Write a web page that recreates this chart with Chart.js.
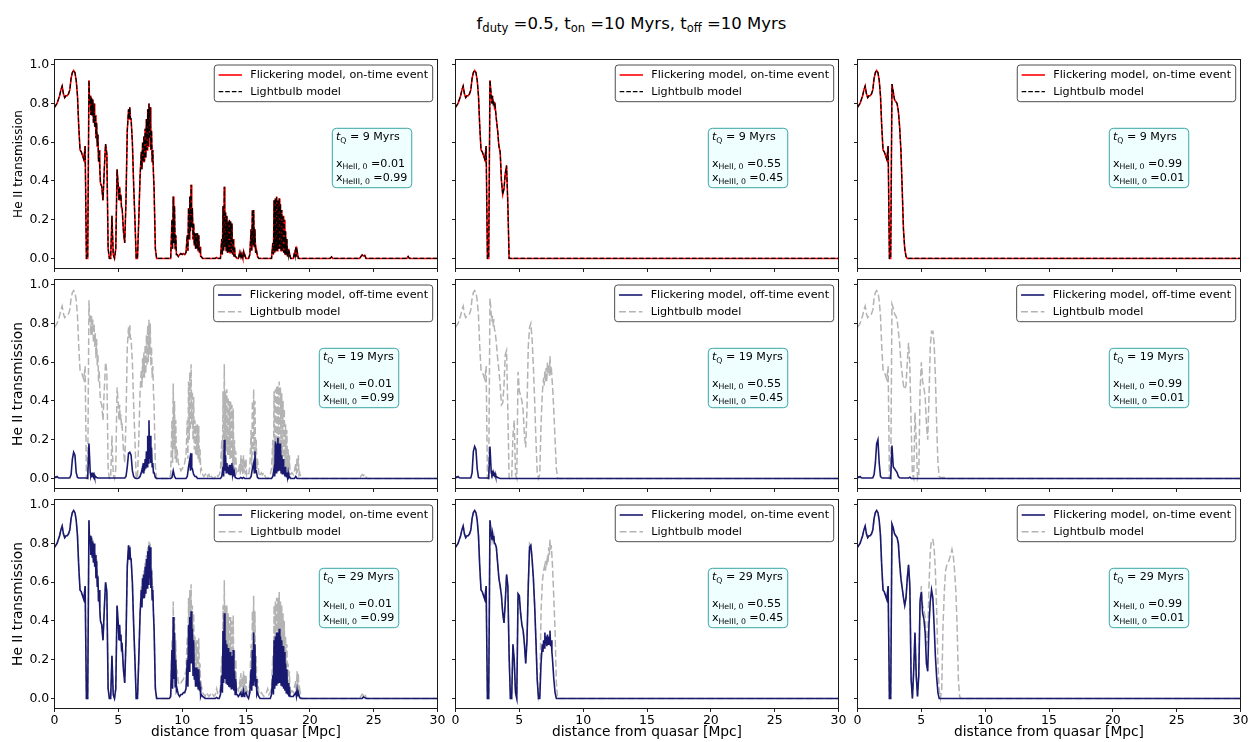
<!DOCTYPE html>
<html>
<head>
<meta charset="utf-8">
<script src="https://cdn.jsdelivr.net/npm/chart.js@4.4.0/dist/chart.umd.min.js"></script>
<style>
  html, body { margin: 0; padding: 0; background: #fff; }
  body { width: 1258px; height: 742px; position: relative; overflow: hidden; font-family: "DejaVu Sans", sans-serif; }
  canvas.panel { position: absolute; }
  #suptitle { position: absolute; left: 0; width: 1263px; top: 15px; line-height: 17px; font-size: 16.5px; text-align: center; color: #000; white-space: nowrap; }
  #suptitle sub { font-size: 0.7em; vertical-align: -0.22em; line-height: 0; }
</style>
</head>
<body>
<div id="suptitle">f<sub>duty</sub> =0.5, t<sub>on</sub> =10 Myrs, t<sub>off</sub> =10 Myrs</div>
<script>
// ---- sampling grid and axis ticks ----
const STEP = 0.1;                           // spacing of the sightline samples [Mpc]
const distTicks = [0, 5, 10, 15, 20, 25, 30];
const transTicks = [0, 0.2, 0.4, 0.6, 0.8, 1.0];

// ---- run parameters ----
const quasarAge = [9, 19, 29];              // t_Q per row [Myrs]
const xHeII0 = ['0.01', '0.55', '0.99'];    // initial He II fraction per column
const xHeIII0 = ['0.99', '0.45', '0.01'];   // initial He III fraction per column
const flickerEvent = ['on-time', 'off-time', 'on-time'];

// ---- transmission along the sightline ----
// A plain number is the transmission at that sample; a pair [peak, trough]
// is a bin where the forest swings from peak (at the sample) to trough
// (half a step further on).

// 0.0-2.4 Mpc, common to every run that sees the quasar shining
const nearZone = [0.78,0.79,0.80,0.82,0.84,0.87,0.89,0.85,0.83,0.84,
  0.84,0.85,0.87,0.93,0.96,0.97,0.96,0.92,0.84,0.68,
  0.56,0.55,0.53,0.51,0.58];

// x_HeII,0 = 0.01 ; samples from 2.5 to 20.0 Mpc
const lb09_x001 = [0.00,0.00,[0.92,0.80],[0.84,0.74],[0.83,0.74],
  [0.82,0.70],[0.80,0.68],[0.74,0.62],[0.70,0.58],[0.64,0.50],[0.56,0.46],0.39,0.37,0.30,0.46,
  0.59,0.54,0.05,0.00,0.00,0.22,0.02,0.00,0.05,0.46,
  [0.37,0.30],[0.37,0.30],[0.33,0.26],0.26,0.14,0.08,0.30,0.66,[0.77,0.72],[0.78,0.72],
  0.72,0.60,0.38,0.20,0.00,0.00,0.20,0.42,[0.55,0.46],[0.60,0.50],
  [0.63,0.50],[0.67,0.52],[0.72,0.56],[0.77,0.58],[0.80,0.62],[0.78,0.56],[0.66,0.50],[0.56,0.44],0.36,0.05,
  0,0,0,0,0,0,0,0,0,0,
  0,0,[0.20,0.05],[0.32,0.08],[0.27,0.05],[0.12,0.02],0.02,0.01,0.02,0.025,
  0.02,0.025,0.02,0.03,[0.12,0.04],[0.26,0.10],[0.32,0.14],[0.38,0.16],[0.26,0.10],[0.18,0.07],
  [0.13,0.05],[0.13,0.05],[0.13,0.04],[0.12,0.03],[0.06,0.01],0.01,0,0,0,0,
  0,0,0,0,0,0,0,0.005,0,0,
  0,[0.10,0.02],[0.27,0.04],[0.37,0.06],[0.24,0.04],[0.22,0.03],[0.19,0.03],[0.20,0.03],[0.19,0.03],[0.18,0.02],
  [0.10,0.01],[0.06,0.01],0.01,0,0,[0.03,0.01],[0.03,0.01],[0.02,0.005],[0.03,0.01],0.02,
  0,0,0,0.02,[0.15,0.04],[0.25,0.07],[0.25,0.06],[0.15,0.03],0.05,0.01,
  0,0,0,0,0,0,0,0,0,0,
  0,[0.08,0.02],[0.30,0.03],[0.31,0.04],[0.32,0.04],[0.30,0.05],[0.31,0.05],[0.28,0.04],[0.25,0.04],[0.22,0.03],
  [0.20,0.02],[0.14,0.02],[0.10,0.01],[0.05,0.01],0.03,0,0,0,[0.03,0.01],[0.06,0.01],
  0.04,0,0,0,0,0,0,0,0,0,
  0];
const lb19_x001 = [0.00,0.00,[0.92,0.80],[0.85,0.74],[0.84,0.74],
  [0.82,0.70],[0.80,0.68],[0.75,0.62],[0.72,0.58],[0.64,0.50],[0.56,0.46],0.40,0.38,0.30,0.46,
  0.60,0.55,0.05,0.00,0.00,0.22,0.02,0.00,0.05,0.47,
  [0.38,0.30],[0.38,0.30],[0.33,0.26],0.27,0.15,0.08,0.30,0.68,[0.78,0.72],[0.79,0.72],
  0.72,0.60,0.38,0.20,0.00,0.00,0.20,0.44,[0.56,0.47],[0.62,0.52],
  [0.65,0.52],[0.69,0.54],[0.74,0.58],[0.79,0.60],[0.82,0.64],[0.80,0.58],[0.68,0.52],[0.58,0.45],0.38,0.06,
  0,0,0,0,0,0,0,0,0,0,
  0,0.02,[0.30,0.08],[0.49,0.15],[0.40,0.10],[0.30,0.08],0.15,0.08,0.06,0.04,
  0.05,0.06,0.08,0.12,[0.30,0.10],[0.50,0.20],[0.55,0.25],[0.59,0.28],[0.45,0.20],[0.42,0.15],
  [0.30,0.12],[0.28,0.12],[0.28,0.10],[0.27,0.08],[0.15,0.04],0.05,0.02,0.01,0.02,0.03,
  0.01,0.02,0,0.01,0,0,0.01,0.02,0.01,0.02,
  0.04,[0.20,0.04],[0.45,0.10],[0.59,0.15],[0.45,0.14],[0.46,0.12],[0.42,0.12],[0.40,0.10],[0.40,0.10],[0.38,0.08],
  [0.36,0.06],[0.20,0.04],[0.14,0.03],0.04,0.03,[0.08,0.02],[0.12,0.03],[0.10,0.02],[0.12,0.03],[0.10,0.02],
  [0.10,0.02],0.03,0.02,0.06,[0.25,0.06],[0.40,0.12],[0.46,0.14],[0.40,0.10],[0.20,0.05],0.10,
  0.03,0.01,0.03,0.02,0.03,0.01,0,0,0.01,0.02,
  0.05,[0.20,0.04],[0.45,0.08],[0.46,0.10],[0.48,0.12],[0.48,0.12],[0.50,0.12],[0.47,0.10],[0.44,0.10],[0.40,0.08],
  [0.36,0.06],[0.28,0.05],[0.25,0.04],[0.15,0.02],[0.12,0.02],0.02,0.03,0.02,0.04,[0.08,0.02],
  [0.11,0.03],[0.12,0.02],0.03,0,0,0,0,0,0,0,
  0];
// off-time event, samples from 0.0 to 20.0 Mpc
const fl19_x001 = [0.010,0.005,0.010,0.003,0.002,0.002,0.002,0.002,0.002,0.002,
  0.002,0.002,0.003,0.02,0.10,0.135,0.12,0.03,0.005,0.002,
  0.002,0.002,0.002,0.002,0.002,0.002,0,0.18,[0.03,0.01],[0.02,0.01],
  [0.03,0.01],[0.02,0.005],0.01,0.005,0.002,0.002,0.002,0.002,0.002,0.002,
  0.002,0.002,0.002,0.002,0.002,0.002,0.002,0.002,0.002,0.002,
  0.002,0.002,0.002,0.002,0.002,0.002,0.01,0.06,0.13,0.135,
  0.12,0.04,0.01,0.002,0,0,0.002,0.01,0.03,[0.06,0.03],
  [0.08,0.04],[0.10,0.05],[0.14,0.06],[0.22,0.08],[0.30,0.10],[0.22,0.08],[0.16,0.06],[0.08,0.03],0.03,0.005,
  0,0,0,0,0,0,0,0,0,0,
  0,0,0.005,0.04,0.01,0,0,0,0,0,
  0,0,0,0,0.01,0.06,[0.10,0.04],[0.13,0.05],0.05,0.02,
  0.01,0.01,0,0,0,0,0,0,0,0,
  0,0,0,0,0,0,0,0,0,0,
  0,0.01,[0.06,0.01],[0.20,0.04],[0.12,0.03],[0.08,0.03],[0.06,0.02],[0.07,0.02],[0.07,0.02],[0.08,0.02],
  [0.04,0.01],[0.03,0.005],0.005,0,0,0,0.005,0,0.005,0,
  0,0,0,0,0.01,0.05,[0.08,0.03],[0.14,0.04],0.04,0.005,
  0,0,0,0,0,0,0,0,0,0,
  0,0.01,[0.05,0.01],[0.19,0.03],[0.18,0.04],[0.21,0.04],[0.18,0.04],[0.18,0.03],[0.12,0.02],[0.10,0.02],
  [0.06,0.01],[0.06,0.01],[0.03,0.005],[0.03,0.005],0.01,0,0,0,0,0.01,
  0,0,0,0,0,0,0,0,0,0,
  0];
const lb29_x001 = [0.00,0.00,[0.92,0.80],[0.85,0.74],[0.84,0.74],
  [0.82,0.70],[0.80,0.68],[0.75,0.62],[0.72,0.58],[0.64,0.50],[0.56,0.46],0.40,0.38,0.30,0.46,
  0.60,0.55,0.05,0.00,0.00,0.22,0.02,0.00,0.05,0.48,
  [0.38,0.30],[0.38,0.30],[0.33,0.26],0.27,0.15,0.08,0.30,0.68,[0.79,0.72],[0.79,0.72],
  0.72,0.60,0.38,0.20,0.00,0.00,0.20,0.44,[0.58,0.48],[0.64,0.52],
  [0.66,0.52],[0.70,0.54],[0.74,0.58],[0.78,0.60],[0.81,0.64],[0.80,0.58],[0.68,0.52],[0.58,0.45],0.38,0.06,
  0,0,0,0,0,0,0,0,0,0,
  0,0.02,[0.30,0.08],[0.50,0.15],[0.42,0.10],[0.30,0.08],0.15,0.08,0.07,0.08,
  0.09,0.10,0.12,0.14,[0.32,0.12],[0.52,0.22],[0.56,0.26],[0.59,0.28],[0.48,0.22],[0.44,0.16],
  [0.32,0.14],[0.30,0.14],[0.30,0.12],[0.31,0.10],[0.18,0.05],0.07,0.03,0.02,0.01,0.03,
  0.02,0.01,0.02,0.01,0.02,0.01,0.02,0.05,0.02,0.03,
  0.06,[0.22,0.05],[0.48,0.12],[0.61,0.16],[0.48,0.15],[0.48,0.14],[0.44,0.13],[0.42,0.12],[0.42,0.12],[0.40,0.10],
  [0.43,0.08],[0.25,0.05],[0.20,0.04],0.05,0.04,[0.08,0.02],[0.13,0.03],[0.11,0.02],[0.14,0.03],[0.12,0.02],
  [0.12,0.02],0.04,0.03,0.08,[0.28,0.07],[0.45,0.14],[0.53,0.16],[0.45,0.12],[0.22,0.05],0.10,
  0.03,0.02,0.03,0.02,0.01,0.02,0.03,0.05,0.02,0.03,
  0.06,[0.22,0.05],[0.48,0.10],[0.50,0.12],[0.52,0.14],[0.52,0.14],[0.55,0.14],[0.50,0.12],[0.48,0.12],[0.44,0.10],
  [0.40,0.08],[0.32,0.06],[0.28,0.05],[0.18,0.03],[0.14,0.02],0.03,0.04,0.03,0.06,[0.09,0.03],
  [0.14,0.04],[0.13,0.03],0.05,0.01,0,0,0,0,0,0,
  0];
const fl29_x001 = [0.00,0.00,[0.92,0.80],[0.84,0.74],[0.83,0.73],
  [0.81,0.70],[0.80,0.68],[0.74,0.62],[0.71,0.58],[0.63,0.50],[0.56,0.46],0.40,0.38,0.30,0.46,
  0.60,0.55,0.05,0.00,0.00,0.22,0.02,0.00,0.05,0.48,
  [0.38,0.30],[0.38,0.30],[0.33,0.26],0.27,0.15,0.08,0.30,0.68,[0.79,0.72],[0.78,0.72],
  0.72,0.60,0.38,0.20,0.00,0.00,0.20,0.43,[0.56,0.47],[0.62,0.52],
  [0.64,0.52],[0.68,0.54],[0.72,0.57],[0.76,0.59],[0.79,0.62],[0.78,0.57],[0.66,0.51],[0.56,0.44],0.36,0.05,
  0,0,0,0,0,0,0,0,0,0,
  0,0.01,[0.25,0.05],[0.42,0.10],[0.34,0.06],[0.20,0.04],0.05,0.02,0.01,0.02,
  0.02,0.03,0.03,0.05,[0.20,0.06],[0.38,0.14],[0.42,0.18],[0.45,0.18],[0.36,0.12],[0.30,0.10],
  [0.16,0.06],[0.16,0.06],[0.15,0.05],[0.15,0.04],[0.06,0.01],0.02,0.01,0.005,0,0,
  0,0,0,0,0,0,0,0.005,0,0,
  0.02,[0.12,0.03],[0.35,0.08],[0.44,0.10],[0.30,0.08],[0.28,0.07],[0.26,0.06],[0.24,0.06],[0.24,0.05],[0.22,0.05],
  [0.25,0.04],[0.14,0.02],[0.10,0.02],0.02,0.01,0.02,[0.03,0.01],0.01,[0.04,0.01],0.02,
  0.03,0.01,0,0.03,[0.15,0.04],[0.25,0.07],[0.34,0.09],[0.28,0.06],[0.10,0.02],0.03,
  0.01,0,0,0,0,0,0,0,0,0,
  0.02,[0.12,0.02],[0.30,0.05],[0.32,0.07],[0.34,0.08],[0.34,0.08],[0.36,0.08],[0.32,0.07],[0.30,0.06],[0.27,0.05],
  [0.24,0.04],[0.18,0.03],[0.15,0.02],[0.08,0.01],[0.06,0.01],0.01,0.01,0.01,0.02,[0.03,0.01],
  [0.04,0.01],0.03,0.005,0,0,0,0,0,0,0,
  0];
// far side of the x_HeII,0 = 0.01 sightline, [distance, transmission]
const tail09_x001 = [[21.6,0],[21.7,0.008],[21.8,0],[23.9,0],[24.0,0.01],[24.1,0.018],[24.2,0.012],[24.3,0.016],[24.4,0],[27.6,0],[27.7,0.01],[27.8,0],[30,0]];
const tail19_x001 = [[20.6,0],[20.7,0.004],[20.8,0],[23.9,0],[24.0,0.012],[24.1,0.02],[24.2,0.014],[24.3,0.022],[24.4,0.005],[24.5,0],[30,0]];
const tail29_x001 = [[23.9,0],[24.0,0.012],[24.1,0.022],[24.2,0.015],[24.3,0.025],[24.4,0.006],[24.5,0],[30,0]];
const tailOn29_x001 = [[24.1,0],[24.2,0.008],[24.3,0.004],[24.4,0],[30,0]];
const farZero = [[30,0]];

// x_HeII,0 = 0.55 ; samples from 2.5 Mpc (off-time run from 0.0)
const lb09_x055 = [0.00,0.00,0.92,[0.84,0.80],[0.84,0.80],
  [0.81,0.78],0.79,0.72,0.66,0.58,0.55,0.40,0.33,0.36,0.44,
  0.48,0.28,0.00];
const lb19_x055 = [0.00,0.00,0.93,[0.85,0.81],[0.84,0.80],
  [0.81,0.77],0.76,0.70,0.62,0.56,0.48,0.38,0.39,0.48,0.64,
  0.66,0.35,0.00,0.00,0.00,0.22,0.30,0.02,0.00,0.55,
  0.45,0.43,0.40,0.35,0.22,0.16,0.36,0.68,0.78,0.80,
  0.72,0.58,0.40,0.20,0.03,0.00,0.02,0.28,0.44,[0.52,0.48],
  [0.56,0.50],[0.57,0.50],[0.60,0.54],[0.59,0.53],[0.63,0.56],[0.58,0.52],0.48,0.35,0.20,0.05,
  0.00];
const fl19_x055 = [0.010,0.005,0.010,0.003,0.002,0.002,0.002,0.002,0.002,0.002,
  0.002,0.002,0.003,0.03,0.14,0.165,0.15,0.05,0.005,0.002,
  0.002,0.002,0.002,0.002,0.002,0.002,0,0.165,[0.03,0.02],[0.03,0.015],
  [0.025,0.015],[0.025,0.01],0.01,0.005,0.002,0];
const lb29_x055 = [0.00,0.00,0.92,[0.85,0.82],[0.85,0.82],
  [0.84,0.80],0.80,0.78,0.70,0.62,0.58,0.53,0.44,0.39,0.50,
  0.64,0.58,0.22,0.00,0.00,0.28,0.20,0.03,0.00,0.54,
  0.53,0.44,0.38,0.35,0.28,0.18,0.30,0.58,0.80,0.79,
  0.72,0.62,0.48,0.30,0.10,0.00,0.02,0.45,0.60,0.66,
  [0.69,0.66],[0.71,0.68],[0.74,0.70],[0.78,0.74],[0.82,0.76],[0.79,0.74],0.68,0.52,0.35,0.08,
  0.00];
const fl29_x055 = [0.00,0.00,0.92,[0.85,0.82],[0.85,0.82],
  [0.84,0.80],0.80,0.78,0.70,0.62,0.58,0.53,0.44,0.39,0.50,
  0.64,0.58,0.22,0.00,0.00,0.28,0.20,0.03,0.00,0.54,
  0.53,0.44,0.38,0.35,0.28,0.18,0.30,0.58,0.78,0.79,
  0.72,0.62,0.48,0.30,0.10,0.00,0.00,0.18,[0.28,0.24],[0.30,0.26],
  [0.34,0.28],[0.32,0.27],[0.33,0.28],[0.32,0.28],[0.35,0.27],[0.30,0.24],0.20,0.10,0.03,0.00];

// x_HeII,0 = 0.99 ; samples from 2.5 Mpc (off-time run from 0.0)
const lb09_x099 = [0.00,0.00,0.90,0.86,0.82,
  0.81,0.80,0.76,0.68,0.56,0.36,0.15,0.05,0.01,0.00];
const lb19_x099 = [0.00,0.00,0.90,0.88,0.85,
  0.84,0.82,0.76,0.70,0.60,0.54,0.48,0.46,0.48,0.60,
  0.70,0.58,0.28,0.02,0.00,0.34,0.20,0.00,0.02,0.45,
  0.60,0.50,0.47,0.42,0.28,0.20,0.42,0.68,0.76,0.76,
  0.70,0.53,0.28,0.08,0.01,0.005,0.005,0.005,0.005,0.005,
  0.00];
const fl19_x099 = [0.010,0.005,0.010,0.003,0.002,0.002,0.002,0.002,0.002,0.002,
  0.002,0.002,0.003,0.02,0.08,0.18,0.20,0.08,0.01,0.003,
  0.002,0.002,0.002,0.002,0.002,0.002,0,0.17,0.06,0.05,
  0.04,0.03,0.01,0.003,0.002,0.002,0.002,0.002,0.002,0.002,
  0.002,0.006,0];
const lb29_x099 = [0.00,0.00,0.90,0.88,0.85,
  0.84,0.83,0.80,0.70,0.62,0.57,0.52,0.48,0.52,0.62,
  0.69,0.58,0.10,0.00,0.14,0.34,0.12,0.01,0.12,0.50,
  0.58,0.48,0.46,0.42,0.28,0.30,0.58,0.76,0.82,0.82,
  0.78,0.66,0.46,0.18,0.04,0.00,0.05,0.38,0.55,0.66,
  0.69,0.70,0.72,0.74,0.77,0.74,0.66,0.56,0.38,0.10,
  0.01,0.00];
const fl29_x099 = [0.00,0.00,0.90,0.88,0.85,
  0.84,0.83,0.80,0.70,0.62,0.57,0.52,0.48,0.52,0.62,
  0.69,0.58,0.10,0.00,0.14,0.34,0.12,0.01,0.12,0.50,
  0.55,0.44,0.41,0.34,0.18,0.14,0.38,0.50,0.56,0.52,
  0.38,0.22,0.11,0.03,0.00];

// turn the samples (plus explicit far-side points) into {x, y} points
function sightline(values, tail, prefix) {
  const ys = prefix ? prefix.concat(values) : values;
  const pts = [];
  ys.forEach((v, i) => {
    const x = Number((i * STEP).toFixed(2));
    if (Array.isArray(v)) {
      pts.push({ x, y: v[0] }, { x: Number((x + STEP / 2).toFixed(3)), y: v[1] });
    } else {
      pts.push({ x, y: v });
    }
  });
  return pts.concat(tail.map(([x, y]) => ({ x, y })));
}

// rows: t_Q = 9, 19, 29 ; columns: x_HeII,0 = 0.01, 0.55, 0.99
const runs = [
  [ { fl: [lb09_x001, tail09_x001, nearZone], lb: [lb09_x001, tail09_x001, nearZone] },
    { fl: [lb09_x055, farZero, nearZone],     lb: [lb09_x055, farZero, nearZone] },
    { fl: [lb09_x099, farZero, nearZone],     lb: [lb09_x099, farZero, nearZone] } ],
  [ { fl: [fl19_x001, farZero, null],         lb: [lb19_x001, tail19_x001, nearZone] },
    { fl: [fl19_x055, farZero, null],         lb: [lb19_x055, farZero, nearZone] },
    { fl: [fl19_x099, farZero, null],         lb: [lb19_x099, farZero, nearZone] } ],
  [ { fl: [fl29_x001, tailOn29_x001, nearZone], lb: [lb29_x001, tail29_x001, nearZone] },
    { fl: [fl29_x055, farZero, nearZone],     lb: [lb29_x055, farZero, nearZone] },
    { fl: [fl29_x099, farZero, nearZone],     lb: [lb29_x099, farZero, nearZone] } ]
];

// ---- page geometry ----
const FONT = '"DejaVu Sans", sans-serif';
Chart.defaults.font.family = FONT;
const plotLeft = [54.5, 455.5, 857.5];
const plotTop = [59.5, 279.5, 499.5];
const PW = 383, PH = 209;
const PAD_L = 48.5, PAD_T = 6.5, PAD_R = 13.5;
const boxOffset = [[277.8, 252.8, 251.8], [264.8, 252.8, 251.8], [264.8, 252.8, 251.8]];

// frame, in-axes legend and parameter box
const panelDecor = {
  id: 'panelDecor',
  afterDatasetsDraw(chart, _args, opts) {
    const ctx = chart.ctx, a = chart.chartArea;
    ctx.save();
    ctx.strokeStyle = '#1a1a1a';
    ctx.lineWidth = 1;
    ctx.strokeRect(a.left, a.top, a.right - a.left, a.bottom - a.top);

    // legend
    const ds = chart.data.datasets;
    ctx.font = '11.2px ' + FONT;
    const tw = Math.max(...ds.map(d => ctx.measureText(d.label).width));
    const w = 4.4 + 23.3 + 8.3 + tw + 4.6, h = 36.7;
    const x0 = a.right - 4.8 - w, y0 = a.top + 5.5;
    ctx.beginPath();
    ctx.roundRect(x0, y0, w, h, 3);
    ctx.fillStyle = 'rgba(255,255,255,0.8)';
    ctx.fill();
    ctx.strokeStyle = '#4d4d4d';
    ctx.stroke();
    ds.forEach((d, i) => {
      const cy = y0 + 10 + i * 16.7;
      ctx.beginPath();
      ctx.setLineDash(d.borderDash || []);
      ctx.strokeStyle = d.borderColor;
      ctx.lineWidth = d.borderWidth;
      ctx.moveTo(x0 + 4.4, cy);
      ctx.lineTo(x0 + 27.7, cy);
      ctx.stroke();
      ctx.setLineDash([]);
      ctx.fillStyle = '#000';
      ctx.textBaseline = 'middle';
      ctx.textAlign = 'left';
      ctx.font = '11.2px ' + FONT;
      ctx.fillText(d.label, x0 + 36, cy + 0.5);
    });

    // parameter box
    const size = 11.1;
    const drawRich = (segs, x, y, draw) => {
      for (const s of segs) {
        const fs = s.sub ? size * 0.7 : size;
        ctx.font = (s.italic ? 'italic ' : '') + fs + 'px ' + FONT;
        if (draw) ctx.fillText(s.t, x, y + (s.sub ? 2.6 : 0));
        x += ctx.measureText(s.t).width;
      }
      return x;
    };
    const lines = opts.lines;
    ctx.textBaseline = 'alphabetic';
    const widest = Math.max(...lines.map(l => drawRich(l.segs, 0, 0, false)));
    const bx = a.left + opts.dx, by = a.top + 68.8;
    ctx.beginPath();
    ctx.roundRect(bx, by, widest + 8, 59.4, 4);
    ctx.fillStyle = '#effefe';
    ctx.fill();
    ctx.strokeStyle = '#3ca6a6';
    ctx.lineWidth = 1;
    ctx.stroke();
    ctx.fillStyle = '#000';
    lines.forEach(l => drawRich(l.segs, bx + 3.6, by + l.dy, true));
    ctx.restore();
  }
};

for (let r = 0; r < 3; r++) {
  for (let c = 0; c < 3; c++) {
    const run = runs[r][c];
    const bottomRow = r === 2, firstCol = c === 0;
    const padB = bottomRow ? 33.5 : 6.5;
    const cv = document.createElement('canvas');
    cv.className = 'panel';
    const W = PAD_L + PW + PAD_R, H = PAD_T + PH + padB;
    cv.width = W; cv.height = H;
    cv.style.left = (plotLeft[c] - PAD_L) + 'px';
    cv.style.top = (plotTop[r] - PAD_T) + 'px';
    cv.style.width = W + 'px'; cv.style.height = H + 'px';
    document.body.appendChild(cv);

    const onRow = r === 0;
    const flicker = {
      label: 'Flickering model, ' + flickerEvent[r] + ' event',
      data: sightline(run.fl[0], run.fl[1], run.fl[2]),
      borderColor: onRow ? '#ff0000' : '#191970',
      borderWidth: 1.6,
      order: onRow ? 2 : 1
    };
    const lightbulb = {
      label: 'Lightbulb model',
      data: sightline(run.lb[0], run.lb[1], run.lb[2]),
      borderColor: onRow ? '#000000' : '#b3b3b3',
      borderWidth: onRow ? 1.2 : 1.5,
      borderDash: onRow ? [4.6, 2] : [6.9, 3],
      order: onRow ? 1 : 2
    };

    const info = [
      { dy: 11.7, segs: [{ t: 't', italic: true }, { t: 'Q', sub: true }, { t: ' = ' + quasarAge[r] + ' Myrs' }] },
      { dy: 38.4, segs: [{ t: 'x' }, { t: 'HeII, 0', sub: true }, { t: ' =' + xHeII0[c] }] },
      { dy: 52.7, segs: [{ t: 'x' }, { t: 'HeIII, 0', sub: true }, { t: ' =' + xHeIII0[c] }] }
    ];

    // fixed axis boxes so every panel's plotting area lands on the same grid
    const fixX = s => { s.height = padB; s.paddingLeft = 0; s.paddingRight = 0; s.paddingTop = 0; s.paddingBottom = 0; };
    const fixY = s => { s.width = PAD_L; s.paddingLeft = 0; s.paddingRight = 0; s.paddingTop = 0; s.paddingBottom = 0; };

    new Chart(cv, {
      type: 'line',
      data: { datasets: [flicker, lightbulb] },
      options: {
        responsive: false,
        animation: false,
        devicePixelRatio: 1,
        events: [],
        parsing: false,
        layout: { padding: { left: 0, top: PAD_T, right: PAD_R, bottom: 0 } },
        elements: { point: { radius: 0 }, line: { tension: 0, fill: false, borderJoinStyle: 'miter' } },
        plugins: {
          legend: { display: false },
          tooltip: { enabled: false },
          panelDecor: { dx: boxOffset[r][c], lines: info }
        },
        scales: {
          x: {
            type: 'linear', min: 0, max: 30,
            afterBuildTicks: s => { s.ticks = distTicks.map(v => ({ value: v })); },
            afterFit: fixX,
            border: { display: false },
            grid: { display: true, drawOnChartArea: false, drawTicks: true, tickLength: 3.5, tickColor: '#222', tickWidth: 1 },
            ticks: { display: bottomRow, color: '#000', font: { size: 12.5 }, padding: 1.5, maxRotation: 0, autoSkip: false, callback: v => String(v) },
            title: { display: bottomRow, text: 'distance from quasar [Mpc]', color: '#000', font: { size: 13.8 }, padding: { top: 0, bottom: 1.5 } }
          },
          y: {
            type: 'linear', min: -0.052, max: 1.027,
            afterBuildTicks: s => { s.ticks = transTicks.map(v => ({ value: v })); },
            afterFit: fixY,
            border: { display: false },
            grid: { display: true, drawOnChartArea: false, drawTicks: true, tickLength: 3.5, tickColor: '#222', tickWidth: 1 },
            ticks: { display: firstCol, color: '#000', font: { size: 12.5 }, padding: 1.7, callback: v => v.toFixed(1) },
            title: { display: firstCol, text: 'He II transmission', color: '#000', font: { size: onRow ? 12 : 13.8 }, padding: { top: onRow ? 6.1 : 4, bottom: 0 } }
          }
        }
      },
      plugins: [panelDecor]
    });
  }
}
</script>
</body>
</html>
